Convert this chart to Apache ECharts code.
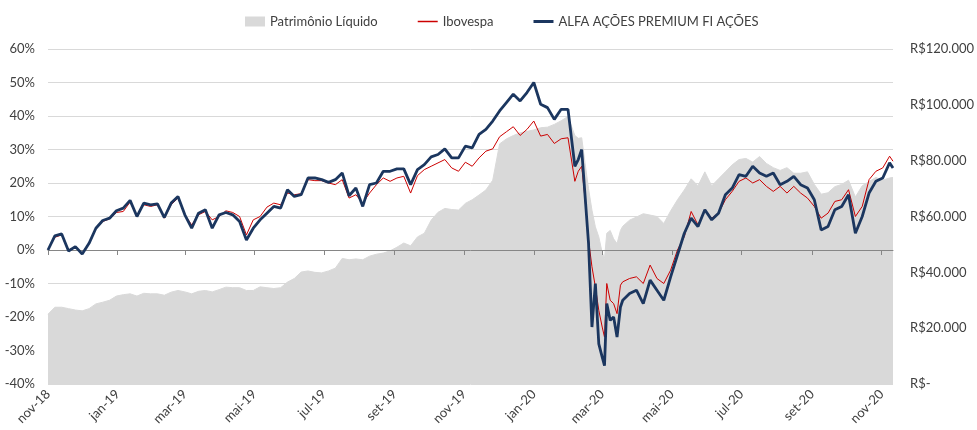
<!DOCTYPE html>
<html>
<head>
<meta charset="utf-8">
<script src="https://cdn.jsdelivr.net/npm/echarts@6/dist/echarts.min.js"></script>
<style>
  html, body { margin: 0; padding: 0; background: #fff; }
  #chart { width: 977px; height: 430px; }
</style>
</head>
<body>
<div id="chart"></div>
<script>
// eixo de datas: todos os dias de 01/11/2018 a 11/11/2020
const startDate = Date.UTC(2018, 10, 1);
const totalDays = 742;
const monthNames = ['jan', 'fev', 'mar', 'abr', 'mai', 'jun', 'jul', 'ago', 'set', 'out', 'nov', 'dez'];
const tickMonths = [0, 2, 4, 6, 8, 10];

// dias (a partir de 01/11/2018) em que os valores foram lidos
const sampleDays = [
  0, 6, 12, 18, 24, 30, 36, 42, 48, 54, 60, 66, 72, 78, 84, 90, 96, 102, 108, 114,
  120, 126, 132, 138, 144, 150, 156, 162, 168, 174, 180, 186, 192, 198, 204, 210, 216, 222, 228, 234,
  240, 246, 252, 258, 264, 270, 276, 282, 288, 294, 300, 306, 312, 318, 324, 330, 336, 342, 348, 354,
  360, 366, 372, 378, 384, 390, 396, 402, 408, 414, 420, 426, 432, 438, 444, 450, 456,
  462, 465, 468, 471, 474, 477, 480, 483, 486, 488, 490, 493, 496, 499, 502,
  504, 510, 516, 522, 528, 534, 540, 546, 552, 558, 564, 570, 576, 582, 588, 594, 600, 606, 612, 618,
  624, 630, 636, 642, 648, 654, 660, 666, 672, 678, 684, 690, 696, 702, 708, 714, 720, 726, 732, 738,
  741
];

// ALFA AÇÕES PREMIUM FI AÇÕES (%)
const fundo = [
  0.0, 4.2, 4.8, -0.3, 1.0, -1.2, 2.0, 6.5, 8.8, 9.5, 11.7, 12.5, 14.8, 10.0, 14.0, 13.5, 13.8, 9.7, 14.0, 16.0,
  10.5, 6.5, 11.0, 12.0, 6.5, 10.5, 11.2, 10.5, 8.5, 3.0, 6.5, 9.0, 11.0,
  13, 12.5, 18, 16, 16.5, 21.5, 21.5, 21, 20.2, 21, 23, 16.2, 18.5, 13, 19.5, 20, 23.5, 23.5,
  24.2, 24.2, 19.5, 24, 25.5, 27.8, 28.5, 30.2, 27.5, 27.5, 31, 30.5, 34.5, 36,
  38.5, 41.5, 44, 46.5, 44.5, 47, 50, 43.5, 42.5, 39, 42, 42,
  25, 27, 30, 16, 2, -23, -10, -28, -32, -34.5, -16, -21, -20, -26, -17,
  -15, -13, -12, -16, -9, -12, -15, -8, -1.5, 5, 9.5,
  7, 12, 9, 11, 16.5, 18.5, 22.5, 22, 25, 23, 22, 23, 19.5, 20.5, 22, 19.5, 18.5, 15, 6, 7,
  12, 13, 16.5, 5, 10, 17, 20.5, 21.5, 26,
  24.5
];

// Ibovespa (%)
const ibovespa = [
  0, 3.8, 4.5, 0, 1.0, -1.0, 2.2, 6.5, 8.5, 9.3, 11.2, 11.5, 14.3, 10.3, 13.5, 13.0, 13.5, 9.5, 13.5, 15.5,
  10.5, 7.5, 10.5, 11.5, 9.0, 10.0, 11.7, 11.2, 10.0, 4.5, 9.0, 10.0, 12.8,
  14, 13.5, 17, 16.5, 16.8, 21, 20.7, 20.7, 20, 19.5, 21, 15.5, 16.5, 14, 17, 19.5, 21.5, 20.5,
  21.5, 22, 17, 22.2, 24, 25, 26, 27, 24.5, 23.5, 26.2, 25, 27.5, 29.5,
  30.2, 33.8, 35.3, 36.8, 34.2, 36, 38.5, 34, 34.5, 31.8, 33.2, 33.5,
  20.5, 23.5, 25, 15, 3, -5, -11, -18, -23, -26, -10, -15, -16, -19, -10.5,
  -9.5, -8.5, -8, -10, -4.5, -8.5, -10, -6, 0, 4, 11.5,
  7.5, 12, 9.5, 11, 15, 17.5, 20.5, 21.5, 20, 21, 19, 17.5, 19, 17, 19, 17, 15.5, 13, 9.5, 11,
  14.5, 15, 18, 10, 13, 21, 23.5, 24.5, 28,
  26.5
];

// Patrimônio Líquido (R$ mil)
const patrimonio = [
  25.0, 27.5, 27.5, 27.0, 26.5, 26.2, 27.0, 28.7, 29.3, 30.0, 31.5, 32.0, 32.3, 31.5, 32.5, 32.3, 32.3, 31.8, 32.9, 33.5,
  33.0, 32.3, 33.2, 33.5, 33.0, 33.8, 34.7, 34.5, 34.5, 33.5, 33.5, 34.8, 34.5,
  34.2, 34.5, 36.5, 37.8, 40.1, 40.5, 40.0, 39.8, 40.5, 41.5, 45.0, 44.5, 44.8, 44.5, 45.8, 46.5, 46.9, 47.7,
  49.0, 50.5, 49.5, 52.7, 54.0, 58.7, 61.5, 62.9, 62.5, 62.3, 64.7, 66.0, 67.7, 69.5,
  73, 86, 87.8, 89, 90, 90.5, 91, 91.8, 92, 93, 94.3, 95.8,
  89, 88, 88.2, 79, 70, 62.3, 56.3, 52.7, 47, 45, 54, 55, 52, 50.3, 55,
  56.5, 58.7, 59.8, 61, 60.5, 60, 57.5, 62, 66, 69.5, 73.5,
  71, 76, 71, 73.5, 76, 78.5, 80.4, 80.8, 79.5, 81.5, 79, 77.5, 76.5, 77.5, 75.5, 75.5, 76, 71.5, 68, 68.5,
  70.7, 71.5, 73, 67, 71, 72.5, 74, 73, 73.8,
  74
];

let dayLabels = [];
for (let d = 0; d < totalDays; d++) {
  dayLabels.push(new Date(startDate + d * 86400000).toISOString().slice(0, 10));
}

function isTick(index, value) {
  let parts = value.split('-');
  return parts[2] === '01' && tickMonths.indexOf(parseInt(parts[1], 10) - 1) >= 0;
}
function monthLabel(value) {
  let parts = value.split('-');
  return monthNames[parseInt(parts[1], 10) - 1] + '-' + parts[0].slice(2);
}

let fundoData = sampleDays.map((d, i) => [d, fundo[i]]);
let iboData = sampleDays.map((d, i) => [d, ibovespa[i]]);
let plData = sampleDays.map((d, i) => [d, patrimonio[i] * 1000]);

let textColor = '#404040';
let font = 'Lato';

let chart = echarts.init(document.getElementById('chart'));
let option = {
  animation: false,
  textStyle: { fontFamily: font },
  legend: {
    top: 10,
    left: 240,
    itemGap: 40,
    itemWidth: 20,
    itemHeight: 10,
    symbolKeepAspect: true,
    textStyle: { color: textColor, fontSize: 13, fontFamily: font },
    data: [
      { name: 'Patrimônio Líquido', icon: 'rect' },
      { name: 'Ibovespa', icon: 'path://M0,0H40V3H0Z' },
      { name: 'ALFA AÇÕES PREMIUM FI AÇÕES', icon: 'path://M0,0H20V3H0Z' }
    ]
  },
  grid: { left: 48, right: 82, top: 49, bottom: 46, containLabel: false },
  xAxis: [
    {
      type: 'category',
      data: dayLabels,
      boundaryGap: false,
      position: 'bottom',
      axisLine: { show: false, onZero: false },
      axisTick: { show: false },
      axisLabel: {
        interval: isTick,
        rotate: 45,
        margin: 8,
        color: textColor,
        fontSize: 13,
        fontFamily: font,
        formatter: monthLabel
      },
      splitLine: { show: false }
    },
    {
      type: 'category',
      data: dayLabels,
      boundaryGap: false,
      position: 'top',
      z: 4,
      axisLine: { show: true, onZero: true, lineStyle: { color: '#868686', width: 1 } },
      axisTick: { show: true, interval: isTick, inside: true, length: 5, lineStyle: { color: '#868686' } },
      axisLabel: { show: false },
      splitLine: { show: false }
    }
  ],
  yAxis: [
    {
      type: 'value',
      min: -40,
      max: 60,
      interval: 10,
      axisLine: { show: false },
      axisTick: { show: false },
      axisLabel: { formatter: '{value}%', color: textColor, fontSize: 13, fontFamily: font, margin: 13 },
      splitLine: { lineStyle: { color: '#d9d9d9', width: 1 } }
    },
    {
      type: 'value',
      min: 0,
      max: 120000,
      interval: 20000,
      axisLine: { show: false },
      axisTick: { show: false },
      splitLine: { show: false },
      axisLabel: {
        color: textColor,
        fontSize: 13,
        fontFamily: font,
        margin: 17,
        formatter: function (v) {
          return v === 0 ? 'R$-' : 'R$' + (v / 1000) + '.000';
        }
      }
    }
  ],
  series: [
    {
      name: 'Patrimônio Líquido',
      type: 'line',
      yAxisIndex: 1,
      z: 2,
      data: plData,
      symbol: 'none',
      itemStyle: { color: '#d9d9d9' },
      lineStyle: { color: '#d9d9d9', width: 1 },
      areaStyle: { color: '#d9d9d9', opacity: 1 }
    },
    {
      name: 'Ibovespa',
      type: 'line',
      z: 5,
      data: iboData,
      symbol: 'none',
      itemStyle: { color: '#cc0000' },
      lineStyle: { color: '#cc0000', width: 1 }
    },
    {
      name: 'ALFA AÇÕES PREMIUM FI AÇÕES',
      type: 'line',
      z: 6,
      data: fundoData,
      symbol: 'none',
      itemStyle: { color: '#1b365f' },
      lineStyle: { color: '#1b365f', width: 2.8 }
    }
  ]
};
chart.setOption(option, true);
</script>
</body>
</html>
